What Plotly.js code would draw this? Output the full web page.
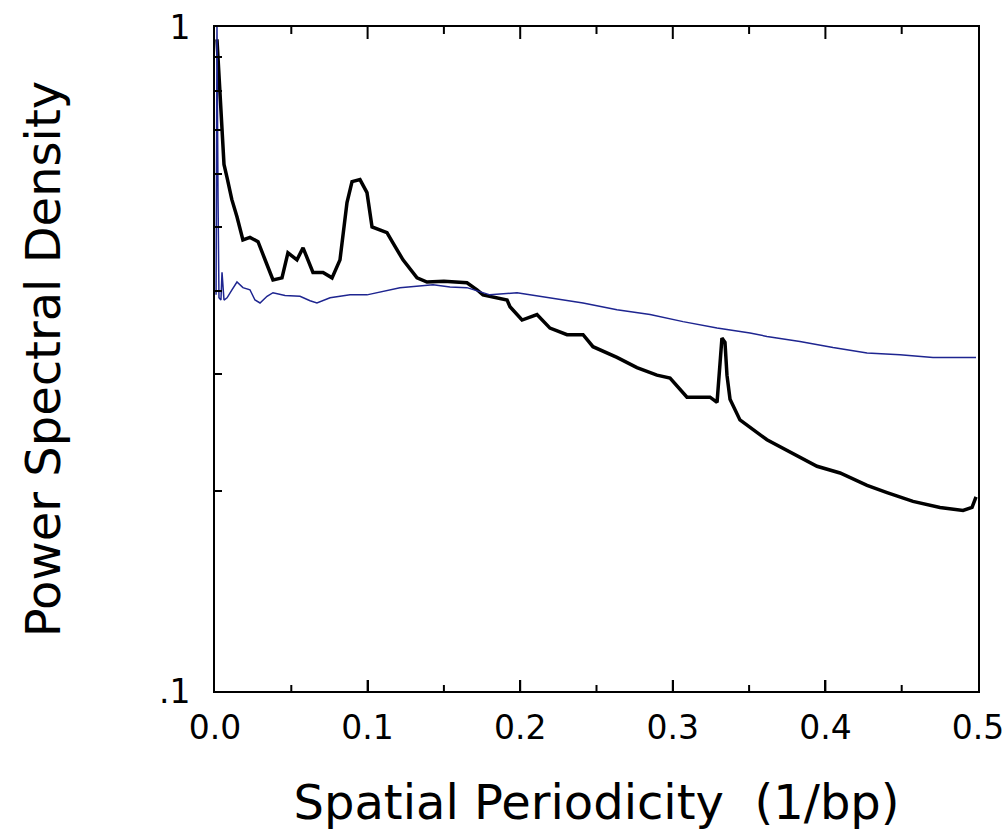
<!DOCTYPE html>
<html>
<head>
<meta charset="utf-8">
<script src="https://cdn.plot.ly/plotly-3.0.1.min.js"></script>
<style>html,body{margin:0;padding:0;background:#fff;}#chart{width:1006px;height:835px;}</style>
</head>
<body>
<div id="chart"></div>
<script>
// Spatial periodicity (1/bp)
const blackX = [0.0013,0.0033,0.0046,0.0059,0.0079,0.0110,0.0144,0.0183,0.0229,0.0282,0.0330,0.0380,0.0439,0.0478,0.0537,0.0577,0.0642,0.0708,0.0767,0.0819,0.0865,0.0898,0.0950,0.0996,0.1029,0.1127,0.1166,0.1232,0.1324,0.1389,0.1500,0.1651,0.1717,0.1756,0.1914,0.1933,0.2012,0.2110,0.2195,0.2307,0.2412,0.2477,0.2634,0.2765,0.2896,0.2982,0.3093,0.3244,0.3290,0.3309,0.3322,0.3342,0.3355,0.3375,0.3440,0.3617,0.3788,0.3945,0.4096,0.4273,0.4404,0.4574,0.4751,0.4902,0.4961,0.4987];
const blackY = [0.958,0.786,0.701,0.621,0.593,0.550,0.518,0.478,0.482,0.475,0.445,0.416,0.419,0.457,0.446,0.465,0.427,0.427,0.419,0.446,0.544,0.585,0.589,0.563,0.500,0.490,0.473,0.446,0.419,0.413,0.414,0.412,0.402,0.395,0.388,0.379,0.362,0.369,0.352,0.344,0.344,0.330,0.318,0.307,0.299,0.296,0.277,0.277,0.272,0.305,0.340,0.335,0.299,0.275,0.256,0.239,0.228,0.218,0.213,0.204,0.199,0.193,0.189,0.187,0.189,0.196];
const blueX = [0.0007,0.0013,0.0020,0.0026,0.0039,0.0046,0.0059,0.0079,0.0111,0.0144,0.0183,0.0229,0.0262,0.0295,0.0341,0.0380,0.0459,0.0557,0.0623,0.0668,0.0754,0.0885,0.0996,0.1081,0.1212,0.1429,0.1540,0.1651,0.1802,0.1979,0.2195,0.2412,0.2634,0.2851,0.3067,0.3290,0.3506,0.3617,0.3833,0.4050,0.4273,0.4489,0.4705,0.4987];
const blueY = [0.395,1.000,0.550,0.391,0.388,0.427,0.388,0.391,0.402,0.413,0.405,0.402,0.388,0.384,0.393,0.398,0.394,0.393,0.387,0.384,0.391,0.395,0.395,0.399,0.405,0.409,0.406,0.405,0.395,0.398,0.391,0.384,0.375,0.369,0.360,0.352,0.346,0.342,0.336,0.329,0.323,0.321,0.318,0.318];
const xTickVals = [0, 0.1, 0.2, 0.3, 0.4, 0.5];
const xTickText = ['0.0', '0.1', '0.2', '0.3', '0.4', '0.5'];
const xMinorVals = [0.05, 0.15, 0.25, 0.35, 0.45];
const yTickVals = [0.1, 1];
const yTickText = ['.1', '1'];
const yMinorVals = [0.2, 0.3, 0.4, 0.5, 0.6, 0.7, 0.8, 0.9];

const font = 'DejaVu Sans, sans-serif';
const plotH = 835 - 27 - 144;
const innerMajor = xTickVals.slice(1, -1);
// frame tick marks as short segments on the axis scales (length in px converted to log decades)
function tickSegs(xs, edge, lenPx) {
  const X = [], Y = [];
  const logEdge = Math.log10(edge);
  const dir = edge >= 1 ? -1 : 1;
  xs.forEach(v => { X.push(v, v, null); Y.push(edge, Math.pow(10, logEdge + dir * lenPx / plotH), null); });
  return {x: X, y: Y, type: 'scatter', mode: 'lines', connectgaps: false,
          line: {color: '#000', width: 2}, hoverinfo: 'skip', showlegend: false};
}
const traces = [
  tickSegs(innerMajor, yTickVals[1], 12),
  tickSegs(xMinorVals, yTickVals[1], 7),
  tickSegs(innerMajor, yTickVals[0], 11),
  tickSegs(xMinorVals, yTickVals[0], 6),
  {x: blackX, y: blackY, type: 'scatter', mode: 'lines', line: {color: '#000000', width: 3.5}, name: 'DNA'},
  {x: blueX, y: blueY, type: 'scatter', mode: 'lines', line: {color: '#1e2590', width: 1.5}, name: 'random'}
];

const layout = {
  width: 1006, height: 835,
  margin: {l: 215, r: 28, t: 27, b: 144},
  paper_bgcolor: '#ffffff', plot_bgcolor: '#ffffff',
  showlegend: false,
  font: {family: font, color: '#000'},
  xaxis: {
    range: [0, 0.5], showgrid: false, zeroline: false,
    showline: true, linecolor: '#000', linewidth: 2, mirror: true,
    tickmode: 'array', ticks: 'inside', ticklen: 11, tickwidth: 2, tickcolor: '#000',
    tickvals: xTickVals, ticktext: xTickText,
    tickfont: {family: font, size: 33, color: '#000'},
    ticklabelstandoff: 6,
    title: {text: 'Spatial Periodicity\u00a0\u00a0(1/bp)', font: {family: font, size: 48, color: '#000'}, standoff: 40}
  },
  yaxis: {
    type: 'log', range: [-1, 0], showgrid: false, zeroline: false,
    showline: true, linecolor: '#000', linewidth: 2, mirror: true,
    tickmode: 'array', ticks: 'inside', ticklen: 7, tickwidth: 2, tickcolor: '#000',
    tickvals: yTickVals, ticktext: yTickText,
    tickfont: {family: font, size: 33, color: '#000'},
    ticklabelstandoff: 16,
    minor: {tickvals: yMinorVals, ticks: 'inside', ticklen: 7, tickwidth: 2, tickcolor: '#000', showgrid: false},
    title: {text: 'Power Spectral Density', font: {family: font, size: 48, color: '#000'}, standoff: 83}
  }
};
Plotly.newPlot('chart', traces, layout, {displayModeBar: false, staticPlot: true});
</script>
</body>
</html>
